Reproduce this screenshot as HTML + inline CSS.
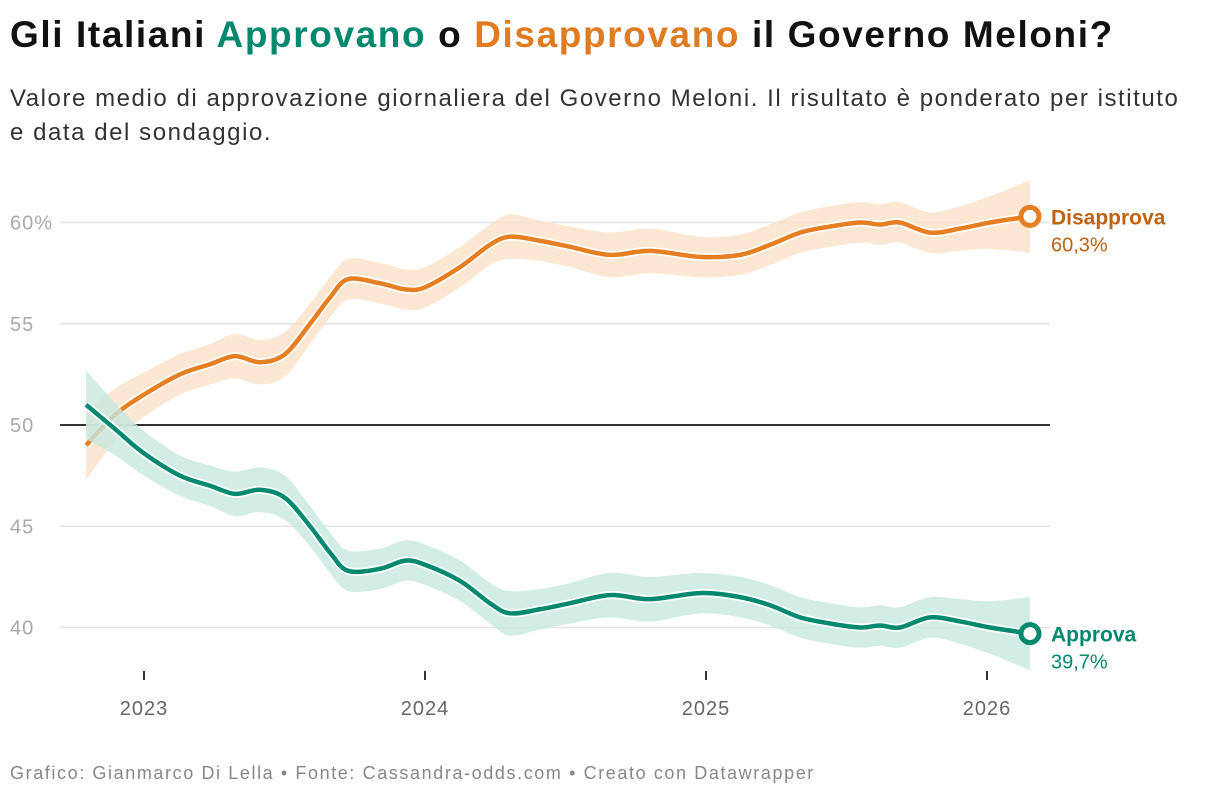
<!DOCTYPE html>
<html><head><meta charset="utf-8"><style>
body{margin:0;width:1220px;height:798px;background:#fff;font-family:"Liberation Sans",sans-serif;overflow:hidden;position:relative}
.t{position:absolute;left:10px;top:14px;font-size:37px;font-weight:bold;color:#111;letter-spacing:1.6px;white-space:nowrap}
.s{position:absolute;left:10px;top:82px;font-size:24px;color:#333;line-height:34px;width:1192px;letter-spacing:1.55px}
.f{position:absolute;left:10px;top:763px;font-size:18px;color:#888;letter-spacing:1.6px;white-space:nowrap}
svg{position:absolute;left:0;top:0}
</style></head><body>
<div class="t">Gli Italiani <span style="color:#00896f">Approvano</span> o <span style="color:#e07c1f">Disapprovano</span> il Governo Meloni?</div>
<div class="s">Valore medio di approvazione giornaliera del Governo Meloni. Il risultato è ponderato per istituto e data del sondaggio.</div>
<div class="f">Grafico: Gianmarco Di Lella • Fonte: Cassandra-odds.com • Creato con Datawrapper</div>
<svg id="c" width="1220" height="798"></svg>
<script>
const dates=[2022.794,2022.897,2023.0,2023.128,2023.235,2023.324,2023.413,2023.502,2023.591,2023.662,2023.726,2023.840,2023.929,2024.0,2024.125,2024.231,2024.302,2024.409,2024.516,2024.658,2024.801,2024.979,2025.121,2025.228,2025.335,2025.441,2025.548,2025.619,2025.690,2025.797,2025.904,2026.011,2026.153];
const disapprova=[49.0,50.5,51.5,52.5,53.0,53.4,53.1,53.5,55.0,56.3,57.2,57.0,56.7,56.8,57.8,58.9,59.3,59.1,58.8,58.4,58.6,58.3,58.4,58.9,59.5,59.8,60.0,59.9,60.0,59.5,59.7,60.0,60.3];
const approva=[51.0,49.8,48.6,47.5,47.0,46.6,46.8,46.4,45.0,43.7,42.8,42.9,43.3,43.1,42.3,41.2,40.7,40.9,41.2,41.6,41.4,41.7,41.5,41.1,40.5,40.2,40.0,40.1,40.0,40.5,40.3,40.0,39.7];
const bandHalf=[1.7,1.3,1.1,1.0,1.0,1.1,1.1,1.1,1.0,1.0,1.0,1.0,1.0,1.0,1.0,1.0,1.1,1.0,1.0,1.1,1.1,1.0,1.0,1.0,1.0,1.0,1.0,1.0,1.0,1.0,1.1,1.3,1.8];
const yTicks=[40,45,50,55,60];
const xTicks=[2023,2024,2025,2026];
const X=v=>144+(v-2023)*281, Y=v=>425-(v-50)*20.25;
const svg=document.getElementById('c'),NS='http://www.w3.org/2000/svg';
function mk(t,a,p){const e=document.createElementNS(NS,t);for(const k in a)e.setAttribute(k,a[k]);(p||svg).appendChild(e);return e;}
function curve(pts){let d='M'+pts[0][0]+','+pts[0][1];for(let i=0;i<pts.length-1;i++){const p0=pts[i-1]||pts[i],p1=pts[i],p2=pts[i+1],p3=pts[i+2]||p2;d+=' C'+(p1[0]+(p2[0]-p0[0])/6)+','+(p1[1]+(p2[1]-p0[1])/6)+' '+(p2[0]-(p3[0]-p1[0])/6)+','+(p2[1]-(p3[1]-p1[1])/6)+' '+p2[0]+','+p2[1];}return d;}
yTicks.forEach(v=>{
 const l=mk('line',{x1:60,x2:1050,y1:Y(v),y2:Y(v),stroke:v==50?'#333':'#e3e3e3','stroke-width':v==50?2:1.5});
 
 
 const t=mk('text',{x:10,y:Y(v)+7,'font-size':20,fill:'#aaa','letter-spacing':1});t.textContent=v==60?'60%':v;
 
 
});
xTicks.forEach(v=>{
 const l=mk('line',{x1:X(v),x2:X(v),y1:671,y2:680,stroke:'#333','stroke-width':2});
 
 
 const t=mk('text',{x:X(v),y:715,'font-size':20,fill:'#666','text-anchor':'middle','letter-spacing':1});t.textContent=v;
 
 
});
function series(vals,col,band,name){
 const up=dates.map((d,i)=>[X(d),Y(vals[i]+bandHalf[i])]),lo=dates.map((d,i)=>[X(d),Y(vals[i]-bandHalf[i])]).reverse();
 const b=mk('path',{d:curve(up)+' L'+curve(lo).slice(1)+' Z',fill:band,opacity:0.8});
 
 
 const pts=dates.map((d,i)=>[X(d),Y(vals[i])]),d=curve(pts);
 mk('path',{d:d,fill:'none',stroke:'#fff','stroke-width':8});
 const l=mk('path',{d:d,fill:'none',stroke:col,'stroke-width':4.5});
 
 
 const last=pts[pts.length-1];
 const c=mk('circle',{cx:last[0],cy:last[1],r:9,fill:'#fff',stroke:col,'stroke-width':5});
 
 
 return last;
}
const pD=series(disapprova,'#e67e22','#fbe1c8','disapprova');
const pA=series(approva,'#00896f','#c7e8df','approva');
function lab(p,name,val,col){
 const a=mk('text',{x:1051,y:p[1]+8,'font-size':21,'font-weight':'bold',fill:col});a.textContent=name;
 
 
 const b=mk('text',{x:1051,y:p[1]+35,'font-size':20,fill:col});b.textContent=val.toFixed(1).replace('.',',')+'%';
 
 
}
lab(pD,'Disapprova',disapprova[disapprova.length-1],'#c0620f');
lab(pA,'Approva',approva[approva.length-1],'#00896f');
</script>
</body></html>
